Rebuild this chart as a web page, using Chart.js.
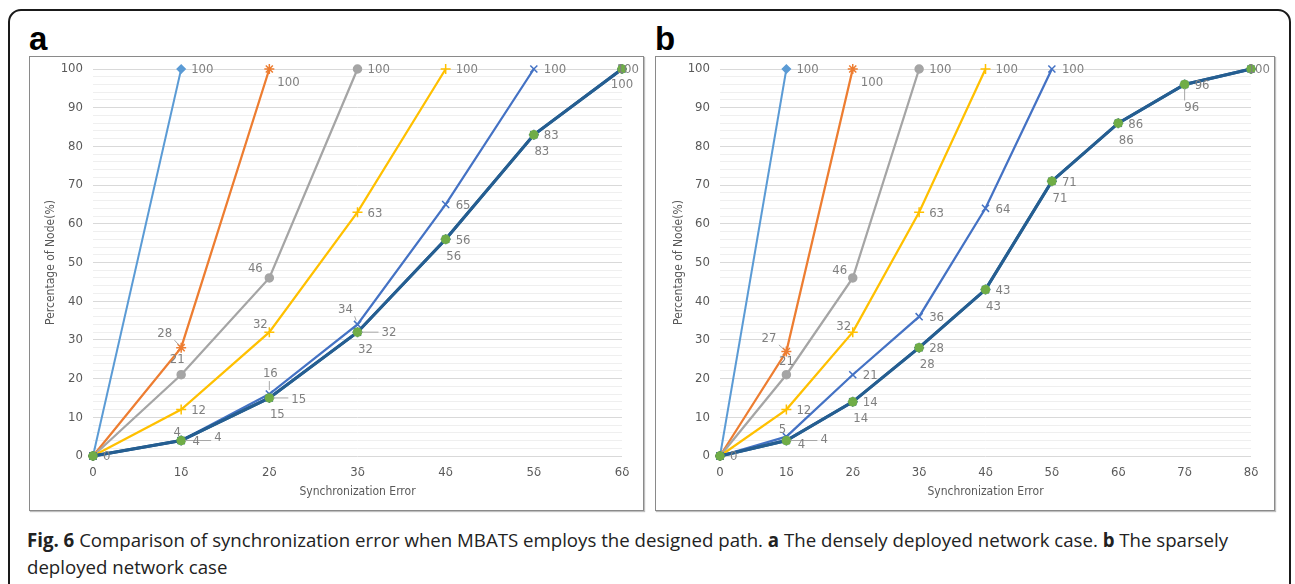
<!DOCTYPE html>
<html>
<head>
<meta charset="utf-8">
<script src="https://cdn.jsdelivr.net/npm/chart.js@4.4.1/dist/chart.umd.min.js"></script>
<style>
  html, body { margin: 0; padding: 0; background: #fff; }
  body { width: 1295px; height: 584px; position: relative; overflow: hidden; }
  #frame { position: absolute; left: 8px; top: 9px; width: 1279px; height: 590px; border: 2px solid #1a1a1a; border-radius: 13px; }
  .tag { position: absolute; top: 22px; font: bold 33px/33px "Liberation Sans", Arial, sans-serif; color: #000; }
  .panel { position: absolute; top: 56px; height: 453px; border: 1px solid #8a8a8a; box-shadow: 1px 1px 1px rgba(0,0,0,0.25); background: #fff; }
  #panelA { left: 29px; width: 613px; }
  #panelB { left: 655px; width: 618px; }
  .panel canvas { position: absolute; left: 0; top: 0; }
  #caption { position: absolute; left: 27px; top: 527px; font: 19px/27px "Open Sans", "Noto Sans", sans-serif; color: #222; white-space: nowrap; transform-origin: 0 0; }
</style>
</head>
<body>
<div id="frame"></div>
<div class="tag" style="left:29px">a</div>
<div class="tag" style="left:655px">b</div>
<div class="panel" id="panelA"><canvas id="chartA" width="613" height="453"></canvas></div>
<div class="panel" id="panelB"><canvas id="chartB" width="618" height="453"></canvas></div>
<div id="caption"><span id="capLine1"><b>Fig. 6</b> Comparison of synchronization error when MBATS employs the designed path. <b>a</b> The densely deployed network case. <b>b</b> The sparsely</span><br>deployed network case</div>

<script>
// x categories and y ticks
const xLabelsDense = ['0', '1δ', '2δ', '3δ', '4δ', '5δ', '6δ'];
const xLabelsSparse = ['0', '1δ', '2δ', '3δ', '4δ', '5δ', '6δ', '7δ', '8δ'];
const yTickValues = [0, 10, 20, 30, 40, 50, 60, 70, 80, 90, 100];

// panel a: densely deployed network
const denseS1 = [0, 100];
const denseS2 = [0, 28, 100];
const denseS3 = [0, 21, 46, 100];
const denseS4 = [0, 12, 32, 63, 100];
const denseS5 = [0, 4, 16, 34, 65, 100];
const denseS6 = [0, 4, 15, 32, 56, 83, 100];
const denseS7 = [0, 4, 15, 32, 56, 83, 100];

// panel b: sparsely deployed network
const sparseS1 = [0, 100];
const sparseS2 = [0, 27, 100];
const sparseS3 = [0, 21, 46, 100];
const sparseS4 = [0, 12, 32, 63, 100];
const sparseS5 = [0, 5, 21, 36, 64, 100];
const sparseS6 = [0, 4, 14, 28, 43, 71, 86, 96, 100];
const sparseS7 = [0, 4, 14, 28, 43, 71, 86, 96, 100];

const NARROW = '"Liberation Sans Narrow", "Arial Narrow", "DejaVu Sans Condensed", sans-serif';

// office-like series styling
const STYLES = [
  { line: '#5B9BD5', fill: '#5B9BD5', marker: 'rectRot', radius: 4, width: 2, order: 7 },
  { line: '#ED7D31', fill: '#ED7D31', marker: 'star', radius: 5, width: 2.25, order: 6 },
  { line: '#A5A5A5', fill: '#A5A5A5', marker: 'circle', radius: 4, width: 2.25, order: 5 },
  { line: '#FFC000', fill: '#FFC000', marker: 'cross', radius: 5, width: 2.25, order: 4 },
  { line: '#4472C4', fill: '#4472C4', marker: 'crossRot', radius: 5, width: 2.25, order: 3 },
  { line: '#255E91', fill: '#70AD47', marker: 'circle', radius: 4, width: 3, order: 1 },
  { line: '#255E91', fill: '#255E91', marker: 'star', radius: 5, width: 3, order: 2 },
];

// data label placement (px offsets from the point)
const RIGHT = { dx: 10, dy: 1, align: 'left' };
const BELOW = { dx: 8, dy: 17, align: 'center' };

const tweaksDense = {
  '1-1': { dx: -9, dy: -14, align: 'right', leader: true },
  '1-2': { dx: 8, dy: 14, align: 'left' },
  '2-1': { dx: -4, dy: -15, align: 'center' },
  '2-2': { dx: -14, dy: -9, align: 'center' },
  '3-2': { dx: -9, dy: -8, align: 'center' },
  '4-1': { dx: -4, dy: -8, align: 'center' },
  '4-2': { dx: 1, dy: -20, align: 'center', leader: true },
  '4-3': { dx: -12, dy: -15, align: 'center', leader: true },
  '5-1': { dx: 33, dy: -3, align: 'left', leader: true },
  '5-2': { dx: 22, dy: 2, align: 'left', leader: true },
  '5-3': { dx: 24, dy: 0, align: 'left', leader: true },
  '6-1': { dx: 15, dy: 1, align: 'center' },
  '6-6': { dx: 0, dy: 16, align: 'center' },
};

const tweaksSparse = {
  '1-1': { dx: -10, dy: -13, align: 'right', leader: true },
  '1-2': { dx: 8, dy: 14, align: 'left' },
  '2-1': { dx: 0, dy: -13, align: 'center' },
  '2-2': { dx: -13, dy: -7, align: 'center' },
  '3-2': { dx: -9, dy: -6, align: 'center' },
  '4-1': { dx: -4, dy: -7, align: 'center' },
  '5-1': { dx: 34, dy: -1, align: 'left', leader: true },
  '6-1': { dx: 15, dy: 4, align: 'center' },
  '6-7': { dx: 7, dy: 23, align: 'center', leader: true },
  '6-8': { skip: true },
};

function drawLeader(ctx, pt, box) {
  const cx = Math.max(box.x0, Math.min(pt.x, box.x1));
  const cy = Math.max(box.y0, Math.min(pt.y, box.y1));
  const dx = pt.x - cx, dy = pt.y - cy;
  const d = Math.hypot(dx, dy);
  if (d < 7) return;
  const ux = dx / d, uy = dy / d;
  ctx.beginPath();
  ctx.moveTo(cx + ux * 2, cy + uy * 2);
  ctx.lineTo(pt.x - ux * 4, pt.y - uy * 4);
  ctx.stroke();
}

const pointLabels = {
  id: 'pointLabels',
  afterDatasetsDraw(chart) {
    const ctx = chart.ctx;
    const tweaks = chart.options.plugins.pointLabels.tweaks || {};
    const last = chart.data.datasets.length - 1;
    ctx.save();
    ctx.font = '13px ' + NARROW;
    ctx.textBaseline = 'middle';
    ctx.fillStyle = '#808080';
    ctx.strokeStyle = '#a6a6a6';
    ctx.lineWidth = 1;
    chart.data.datasets.forEach((ds, di) => {
      const meta = chart.getDatasetMeta(di);
      meta.data.forEach((pt, i) => {
        const v = ds.data[i];
        if (v === 0 && di !== 5) return;
        const pos = tweaks[di + '-' + i] || (di === last ? BELOW : RIGHT);
        if (pos.skip) return;
        const txt = String(v);
        const w = ctx.measureText(txt).width;
        let x = pt.x + pos.dx;
        const y = pt.y + pos.dy;
        let x0 = pos.align === 'left' ? x : pos.align === 'right' ? x - w : x - w / 2;
        const over = x0 + w - (chart.width - 4);
        if (over > 0) { x -= over; x0 -= over; }
        ctx.textAlign = pos.align || 'left';
        ctx.fillText(txt, x, y);
        if (pos.leader) drawLeader(ctx, pt, { x0: x0 - 1, x1: x0 + w + 1, y0: y - 5, y1: y + 5 });
      });
    });
    ctx.restore();
  }
};

function buildDatasets(series) {
  return series.map((values, k) => {
    const s = STYLES[k];
    return {
      data: values,
      borderColor: s.line,
      borderWidth: s.width,
      pointStyle: s.marker,
      pointRadius: s.radius,
      pointBackgroundColor: s.fill,
      pointBorderColor: s.marker === 'circle' || s.marker === 'rectRot' ? s.fill : s.line,
      pointBorderWidth: 1.5,
      tension: 0,
      fill: false,
      clip: false,
      order: s.order,
    };
  });
}

function makeChart(canvasId, labels, series, geo, tweaks) {
  return new Chart(document.getElementById(canvasId), {
    type: 'line',
    data: { labels: labels, datasets: buildDatasets(series) },
    plugins: [pointLabels],
    options: {
      responsive: false,
      animation: false,
      devicePixelRatio: 1,
      layout: { padding: { left: 0, right: geo.right, top: 12, bottom: 0 } },
      plugins: {
        legend: { display: false },
        tooltip: { enabled: false },
        pointLabels: { tweaks: tweaks },
      },
      scales: {
        x: {
          offset: false,
          grid: { display: false, drawTicks: false },
          border: { display: false },
          ticks: { color: '#595959', font: { family: NARROW, size: 13 }, padding: 9, maxRotation: 0, autoSkip: false },
          title: { display: true, text: 'Synchronization Error', color: '#595959', font: { family: NARROW, size: 12 }, padding: { bottom: 11 } },
          afterFit: (s) => { s.height = 54; },
        },
        y: {
          min: 0,
          max: 100,
          grid: {
            drawTicks: false,
            color: (c) => (c.tick && yTickValues.includes(c.tick.value) ? '#d9d9d9' : '#efefef'),
            lineWidth: 1,
          },
          border: { display: false },
          ticks: {
            stepSize: 2,
            autoSkip: false,
            padding: 10,
            color: '#595959',
            font: { family: NARROW, size: 13 },
            callback: (v) => (yTickValues.includes(v) ? v : ''),
          },
          title: { display: true, text: 'Percentage of Node(%)', color: '#595959', font: { family: NARROW, size: 12 }, padding: { top: geo.titlePad } },
          afterFit: (s) => { s.width = geo.left; s.paddingTop = 0; s.paddingBottom = 0; },
        },
      },
    },
  });
}

makeChart('chartA', xLabelsDense,
  [denseS1, denseS2, denseS3, denseS4, denseS5, denseS6, denseS7],
  { left: 63, right: 21, titlePad: 14 }, tweaksDense);

makeChart('chartB', xLabelsSparse,
  [sparseS1, sparseS2, sparseS3, sparseS4, sparseS5, sparseS6, sparseS7],
  { left: 64, right: 23, titlePad: 16 }, tweaksSparse);

// squeeze the caption to the width of the printed one
const cap = document.getElementById('caption');
const w1 = document.getElementById('capLine1').getBoundingClientRect().width;
cap.style.transform = 'scaleX(' + (1201 / w1) + ')';
</script>
</body>
</html>
